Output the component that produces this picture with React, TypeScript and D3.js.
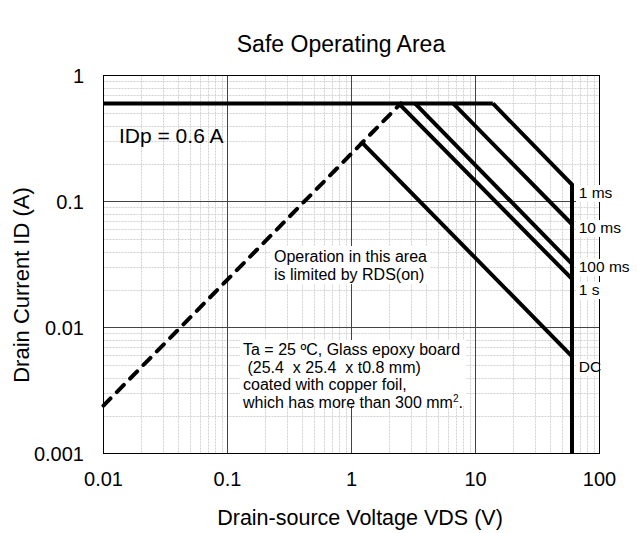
import React from 'react';
import * as d3 from 'd3';

const xTicks = [0.01, 0.1, 1, 10, 100];
const xTickLabels = ['0.01', '0.1', '1', '10', '100'];
const yTicks = [0.001, 0.01, 0.1, 1];
const yTickLabels = ['0.001', '0.01', '0.1', '1'];

// [VDS (V), ID (A)]
const idpLimit: [number, number][] = [[0.01, 0.6], [13.8, 0.6]];
const pulse1ms: [number, number][] = [[13.8, 0.6], [60, 0.136], [60, 0.001]];
const pulse10ms: [number, number][] = [[6.6, 0.6], [60, 0.066]];
const pulse100ms: [number, number][] = [[3.25, 0.6], [60, 0.032]];
const pulse1s: [number, number][] = [[2.4, 0.6], [60, 0.0243]];
const dcLimit: [number, number][] = [[1.19, 0.3], [60, 0.0059]];
const rdsLimit: [number, number][] = [[0.01, 0.0024], [2.5, 0.6]];

const curveLabels = ['1 ms', '10 ms', '100 ms', '1 s', 'DC'];
const curveLabelCurrents = [0.1066, 0.0562, 0.0276, 0.0181, 0.00443];
const curveLabelVoltage = 68;

const W = 637;
const H = 533;
const FONT = '"Liberation Sans", Arial, Helvetica, sans-serif';

export default function App() {
  const x = d3.scaleLog().domain([0.01, 100]).range([103.5, 599.5]);
  const y = d3.scaleLog().domain([0.001, 1]).range([453.5, 75.5]);
  const line = d3
    .line<[number, number]>()
    .x((d) => x(d[0]))
    .y((d) => y(d[1]));

  const minorX: number[] = [];
  for (let e = -2; e < 2; e++) for (let k = 2; k <= 9; k++) minorX.push(k * Math.pow(10, e));
  const minorY: number[] = [];
  for (let e = -3; e < 0; e++) for (let k = 2; k <= 9; k++) minorY.push(k * Math.pow(10, e));

  const [x0, x1] = x.range();
  const [y0, y1] = y.range();

  const solid = [idpLimit, pulse1ms, pulse10ms, pulse100ms, pulse1s, dcLimit];

  return (
    <svg width={W} height={H} style={{ display: 'block', position: 'absolute', left: 0, top: 0 }} fontFamily={FONT}>
      <rect x={0} y={0} width={W} height={H} fill="#fff" />
      <text x={341} y={52} fontSize={23} textAnchor="middle" fill="#000">
        Safe Operating Area
      </text>
      {/* minor grid */}
      <g stroke="#d2d2d2" strokeWidth={1} strokeDasharray="2,1">
        {minorX.map((v, i) => (
          <line key={'mx' + i} x1={Math.round(x(v)) + 0.5} x2={Math.round(x(v)) + 0.5} y1={y1} y2={y0} />
        ))}
        {minorY.map((v, i) => (
          <line key={'my' + i} x1={x0} x2={x1} y1={Math.round(y(v)) + 0.5} y2={Math.round(y(v)) + 0.5} />
        ))}
      </g>
      {/* major grid */}
      <g stroke="#444" strokeWidth={1}>
        {xTicks.slice(1, -1).map((v, i) => (
          <line key={'Mx' + i} x1={x(v)} x2={x(v)} y1={y1} y2={y0} />
        ))}
        {yTicks.slice(1, -1).map((v, i) => (
          <line key={'My' + i} x1={x0} x2={x1} y1={y(v)} y2={y(v)} />
        ))}
      </g>
      <rect x={x0} y={y1} width={x1 - x0} height={y0 - y1} fill="none" stroke="#000" strokeWidth={1} />

      {/* annotation boxes */}
      <rect x={270} y={246} width={160} height={38} fill="#fff" />
      <rect x={240} y={340} width={226} height={66} fill="#fff" />

      {/* curves */}
      <g fill="none" stroke="#000" strokeWidth={4} strokeLinejoin="miter">
        {solid.map((d, i) => (
          <path key={'c' + i} d={line(d) || ''} />
        ))}
        <path d={line(rdsLimit) || ''} strokeDasharray="10,9" strokeLinecap="round" />
      </g>

      {/* curve labels */}
      {curveLabels.map((t, i) => {
        const yy = y(curveLabelCurrents[i]);
        return (
          <g key={'l' + i}>
            <rect x={576} y={yy - 13} width={t === 'DC' ? 22 : 55} height={17} fill="#fff" />
            <text x={x(curveLabelVoltage)} y={yy} fontSize={15.5} fill="#000">
              {t}
            </text>
          </g>
        );
      })}

      <text x={119} y={143} fontSize={21} fill="#000">IDp = 0.6 A</text>

      <g fontSize={16} fill="#000">
        <text x={274} y={262}>Operation in this area</text>
        <text x={274} y={279.5}>is limited by RDS(on)</text>
        <text x={243} y={355}>Ta = 25 ºC, Glass epoxy board</text>
        <text x={243} y={372.5} style={{ whiteSpace: 'pre' }}>{' (25.4  x 25.4  x t0.8 mm)'}</text>
        <text x={243} y={390}>coated with copper foil,</text>
        <text x={243} y={407.5}>
          which has more than 300 mm<tspan fontSize={10} dy={-6}>2</tspan>
          <tspan dy={6}>.</tspan>
        </text>
      </g>

      {/* tick labels */}
      <g fontSize={20} fill="#000">
        {xTicks.map((v, i) => (
          <text key={'xt' + i} x={x(v)} y={486} textAnchor="middle">
            {xTickLabels[i]}
          </text>
        ))}
        {yTicks.map((v, i) => (
          <text key={'yt' + i} x={84} y={y(v) + 7} textAnchor="end">
            {yTickLabels[i]}
          </text>
        ))}
      </g>

      <text x={360} y={525} fontSize={21.5} textAnchor="middle" fill="#000">
        Drain-source Voltage VDS (V)
      </text>
      <text transform={`translate(29,285) rotate(-90)`} fontSize={22} textAnchor="middle" fill="#000">
        Drain Current ID (A)
      </text>
    </svg>
  );
}
